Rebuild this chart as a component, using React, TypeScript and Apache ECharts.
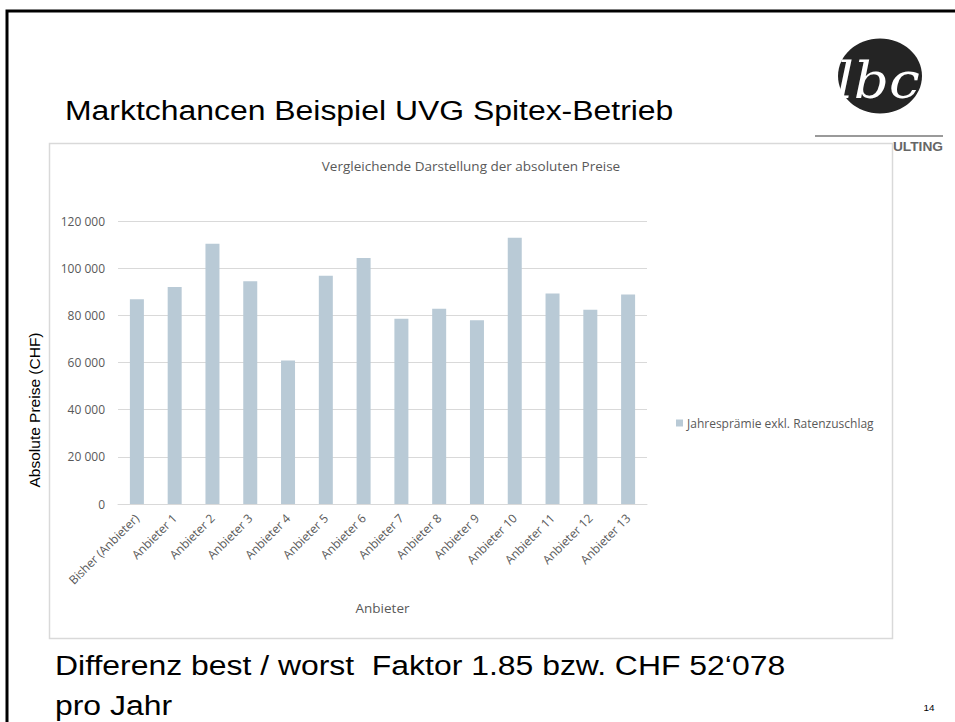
import React, { useEffect, useRef } from "react";
import * as echarts from "echarts";

const categories = [
  "Bisher (Anbieter)",
  "Anbieter 1",
  "Anbieter 2",
  "Anbieter 3",
  "Anbieter 4",
  "Anbieter 5",
  "Anbieter 6",
  "Anbieter 7",
  "Anbieter 8",
  "Anbieter 9",
  "Anbieter 10",
  "Anbieter 11",
  "Anbieter 12",
  "Anbieter 13",
];
const values = [86800, 92000, 110400, 94400, 60900, 96800, 104300, 78500, 82800, 77900, 112900, 89300, 82400, 88800];
const seriesName = "Jahresprämie exkl. Ratenzuschlag";
const yTicks = { min: 0, max: 120000, interval: 20000 };
const slideTitle = "Marktchancen Beispiel UVG Spitex-Betrieb";
const chartTitle = "Vergleichende Darstellung der absoluten Preise";
const yAxisTitle = "Absolute Preise (CHF)";
const xAxisTitle = "Anbieter";
const footerLines = ["Differenz best / worst  Faktor 1.85 bzw. CHF 52‘078", "pro Jahr"];
const pageNumber = "14";

const fmt = (v: number) => String(v).replace(/\B(?=(\d{3})+(?!\d))/g, " ");

export default function App() {
  const ref = useRef<HTMLDivElement>(null);
  useEffect(() => {
    if (!ref.current) return;
    const chart = echarts.init(ref.current, null, { renderer: "svg" });
    const gray = "#595959";
    const calibri = "'Open Sans', 'Liberation Sans', sans-serif";
    const arial = "'Liberation Sans', Arial, sans-serif";
    const sx = 1.14;
    chart.setOption({
      animation: false,
      backgroundColor: "#ffffff",
      grid: { left: 118, right: 308, top: 221, bottom: 218, containLabel: false },
      legend: {
        show: true,
        data: [seriesName],
        left: 671,
        top: 412,
        itemWidth: 7,
        itemHeight: 7,
        itemGap: 4,
        icon: "rect",
        textStyle: { color: gray, fontSize: 12, fontFamily: calibri, padding: [0, 0, 0, -1] },
      },
      xAxis: {
        type: "category",
        data: categories,
        axisTick: { show: false },
        axisLine: { lineStyle: { color: "#d9d9d9", width: 1 } },
        axisLabel: { rotate: 45, color: gray, fontSize: 12, fontFamily: calibri, margin: 12, interval: 0 },
        name: xAxisTitle,
        nameLocation: "middle",
        nameGap: 97,
        nameTextStyle: { color: gray, fontSize: 13.5, fontFamily: calibri },
      },
      yAxis: {
        type: "value",
        min: yTicks.min,
        max: yTicks.max,
        interval: yTicks.interval,
        axisLine: { show: false },
        axisTick: { show: false },
        axisLabel: { color: gray, fontSize: 12, fontFamily: calibri, margin: 13, formatter: (v: number) => fmt(v) },
        splitLine: { lineStyle: { color: "#d9d9d9", width: 1 } },
      },
      series: [
        {
          name: seriesName,
          type: "bar",
          data: values,
          barWidth: 14,
          itemStyle: { color: "#b9cad6" },
        },
      ],
      graphic: [
        // slide border
        {
          type: "rect",
          z: -30,
          shape: { x: 7, y: 11, width: 1000, height: 800 },
          style: { fill: "#ffffff", stroke: "#000000", lineWidth: 3 },
        },
        // logo
        {
          type: "ellipse",
          z: -25,
          shape: { cx: 880, cy: 76, rx: 42, ry: 37.5 },
          style: { fill: "#242424" },
        },
        {
          type: "text",
          z: -24,
          x: 878,
          y: 80,
          scaleX: 1.1,
          style: {
            text: "lbc",
            fill: "#ffffff",
            font: "italic 50px 'DejaVu Serif', serif",
            align: "center",
            verticalAlign: "middle",
          },
        },
        {
          type: "line",
          z: -25,
          shape: { x1: 815, y1: 136, x2: 943, y2: 136 },
          style: { stroke: "#9a9a9a", lineWidth: 2 },
        },
        {
          type: "text",
          z: -25,
          x: 943,
          y: 146.5,
          scaleX: 1.1,
          style: {
            text: "CONSULTING",
            fill: "#666666",
            font: "bold 12.5px 'Liberation Sans', Arial, sans-serif",
            align: "right",
            verticalAlign: "middle",
          },
        },
        // white cover hiding the part of the logo caption behind the chart object
        {
          type: "rect",
          z: -22,
          shape: { x: 830, y: 138, width: 63, height: 8 },
          style: { fill: "#ffffff" },
        },
        // chart box
        {
          type: "rect",
          z: -20,
          shape: { x: 49.5, y: 143.5, width: 843, height: 495 },
          style: { fill: "#ffffff", stroke: "#d9d9d9", lineWidth: 1.5 },
        },
        // slide title
        {
          type: "text",
          z: 5,
          x: 65,
          y: 110,
          scaleX: sx,
          style: { text: slideTitle, fill: "#000000", font: `28px ${arial}`, verticalAlign: "middle" },
        },
        // chart title
        {
          type: "text",
          z: 5,
          x: 471,
          y: 166,
          style: { text: chartTitle, fill: gray, font: `13.5px ${calibri}`, align: "center", verticalAlign: "middle" },
        },
        // y axis title
        {
          type: "text",
          z: 5,
          x: 34,
          y: 410,
          rotation: Math.PI / 2,
          style: { text: yAxisTitle, fill: "#000000", font: `15.5px ${arial}`, align: "center", verticalAlign: "middle" },
        },
        // footer
        {
          type: "text",
          z: 5,
          x: 55,
          y: 665,
          scaleX: sx,
          style: { text: footerLines[0], fill: "#000000", font: `28px ${arial}`, verticalAlign: "middle" },
        },
        {
          type: "text",
          z: 5,
          x: 55,
          y: 705,
          scaleX: sx,
          style: { text: footerLines[1], fill: "#000000", font: `28px ${arial}`, verticalAlign: "middle" },
        },
        {
          type: "text",
          z: 5,
          x: 929,
          y: 708,
          scaleX: 1.1,
          style: { text: pageNumber, fill: "#000000", font: `9px ${arial}`, align: "center", verticalAlign: "middle" },
        },
      ],
    });
    return () => chart.dispose();
  }, []);
  return <div ref={ref} style={{ position: "absolute", left: 0, top: 0, width: 955, height: 722 }} />;
}
